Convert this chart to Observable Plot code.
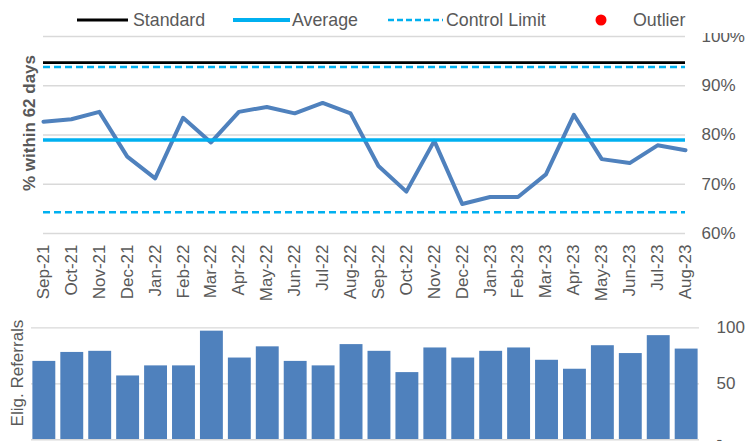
<!DOCTYPE html>
<html><head><meta charset="utf-8">
<script src="https://cdn.jsdelivr.net/npm/d3@7"></script>
<script src="https://cdn.jsdelivr.net/npm/@observablehq/plot@0.6"></script>
<style>
body{margin:0;background:#fff;}
#wrap{position:relative;width:747px;height:441px;overflow:hidden;font-family:"Liberation Sans",Arial,sans-serif;color:#595959;}
#wrap svg{position:absolute;left:0;}
.ylab{position:absolute;white-space:nowrap;transform:translate(-50%,-50%) rotate(-90deg);font-size:17px;color:#595959;}
</style></head><body><div id="wrap"></div>
<script>
// ---- data ----
const months = ["Sep-21","Oct-21","Nov-21","Dec-21","Jan-22","Feb-22","Mar-22","Apr-22","May-22","Jun-22","Jul-22","Aug-22",
                "Sep-22","Oct-22","Nov-22","Dec-22","Jan-23","Feb-23","Mar-23","Apr-23","May-23","Jun-23","Jul-23","Aug-23"];
const pctWithin62 = [82.7,83.2,84.7,75.6,71.2,83.5,78.5,84.7,85.7,84.4,86.5,84.4,
                     73.7,68.5,78.8,66.0,67.4,67.4,72.0,84.1,75.1,74.3,77.9,76.9];
const eligReferrals = [70,78,79,57,66,66,97,73,83,70,66,85,79,60,82,73,79,82,71,63,84,77,93,81];
const standardPct = 94.7;
const averagePct = 79.0;
const upperLimitPct = 93.8;
const lowerLimitPct = 64.3;
const pctTicks = [60,70,80,90,100];
const refTicks = [0,50,100];
const legendLabels = ["Standard","Average","Control Limit","Outlier"];

// ---- styles ----
const FONT = '"Liberation Sans", Arial, sans-serif';
const LINE_BLUE = "#4F81BD", CYAN = "#00B0F0", GRID = "#D9D9D9", TEXT = "#595959";
const wrap = document.getElementById("wrap");

// ---- top chart ----
const topData = months.map((m,i)=>({month:m, pct:pctWithin62[i]}));
const topChart = Plot.plot({
  width:747, height:310, marginTop:36, marginBottom:77, marginLeft:43, marginRight:62,
  style:{fontFamily:FONT, fontSize:"17px", color:TEXT, background:"transparent", overflow:"visible"},
  x:{type:"point", domain:months, padding:0, round:false},
  y:{domain:[60,100]},
  marks:[
    Plot.ruleY(pctTicks,{stroke:GRID, strokeWidth:1.3}),
    Plot.ruleY([lowerLimitPct, upperLimitPct],{stroke:CYAN, strokeWidth:2.5, strokeDasharray:"7,4"}),
    Plot.ruleY([standardPct],{stroke:"#000", strokeWidth:2.8}),
    Plot.line(topData,{x:"month", y:"pct", stroke:LINE_BLUE, strokeWidth:4}),
    Plot.ruleY([averagePct],{stroke:CYAN, strokeWidth:3.5}),
    Plot.axisY(pctTicks,{anchor:"right", tickSize:0, tickPadding:16, tickFormat:d=>d+"%", label:null, fontSize:17}),
    Plot.axisX({anchor:"bottom", tickSize:0, tickRotate:-90, tickPadding:11, label:null, fontSize:17})
  ]
});
topChart.style.top = "0px";
wrap.appendChild(topChart);

// ---- bottom chart ----
const barData = months.map((m,i)=>({month:m, n:eligReferrals[i]}));
const bottomChart = Plot.plot({
  width:747, height:131, marginTop:17.3, marginBottom:1.7, marginLeft:31, marginRight:48,
  style:{fontFamily:FONT, fontSize:"17px", color:TEXT, background:"transparent", overflow:"visible"},
  x:{type:"band", domain:months, paddingInner:0.18, paddingOuter:0.05, round:false, axis:null},
  y:{domain:[0,100]},
  marks:[
    Plot.ruleY([50,100],{stroke:GRID, strokeWidth:1.3}),
    Plot.barY(barData,{x:"month", y:"n", fill:LINE_BLUE}),
    Plot.ruleY([0],{stroke:GRID, strokeWidth:1.5}),
    Plot.axisY(refTicks,{anchor:"right", tickSize:0, tickPadding:17, tickFormat:d=>d===0?"-":d, label:null, fontSize:17})
  ]
});
bottomChart.style.top = "310px";
wrap.appendChild(bottomChart);

// ---- axis titles ----
const t1 = document.createElement("div");
t1.className = "ylab"; t1.style.left = "30px"; t1.style.top = "123px"; t1.style.fontWeight = "bold";
t1.textContent = "% within 62 days";
wrap.appendChild(t1);
const t2 = document.createElement("div");
t2.className = "ylab"; t2.style.left = "18px"; t2.style.top = "373px";
t2.textContent = "Elig. Referrals";
wrap.appendChild(t2);

// ---- legend ----
const leg = d3.create("svg").attr("width",747).attr("height",33).style("top","0px")
  .style("font-family",FONT).style("font-size","17.8px");
leg.append("rect").attr("width",747).attr("height",33).attr("fill","#fff");
const ly = 20;
leg.append("line").attr("x1",77).attr("x2",128).attr("y1",ly).attr("y2",ly).attr("stroke","#000").attr("stroke-width",3);
leg.append("line").attr("x1",233).attr("x2",290).attr("y1",ly).attr("y2",ly).attr("stroke",CYAN).attr("stroke-width",4);
leg.append("line").attr("x1",388).attr("x2",443).attr("y1",ly).attr("y2",ly).attr("stroke",CYAN).attr("stroke-width",2.5).attr("stroke-dasharray","6,3");
leg.append("circle").attr("cx",601).attr("cy",ly).attr("r",5.5).attr("fill","#FF0000");
const lx = [133,292,446,633];
legendLabels.forEach((s,i)=>{
  leg.append("text").attr("x",lx[i]).attr("y",ly).attr("dy","0.35em").attr("fill",TEXT).text(s);
});
wrap.appendChild(leg.node());
</script>
</body></html>
